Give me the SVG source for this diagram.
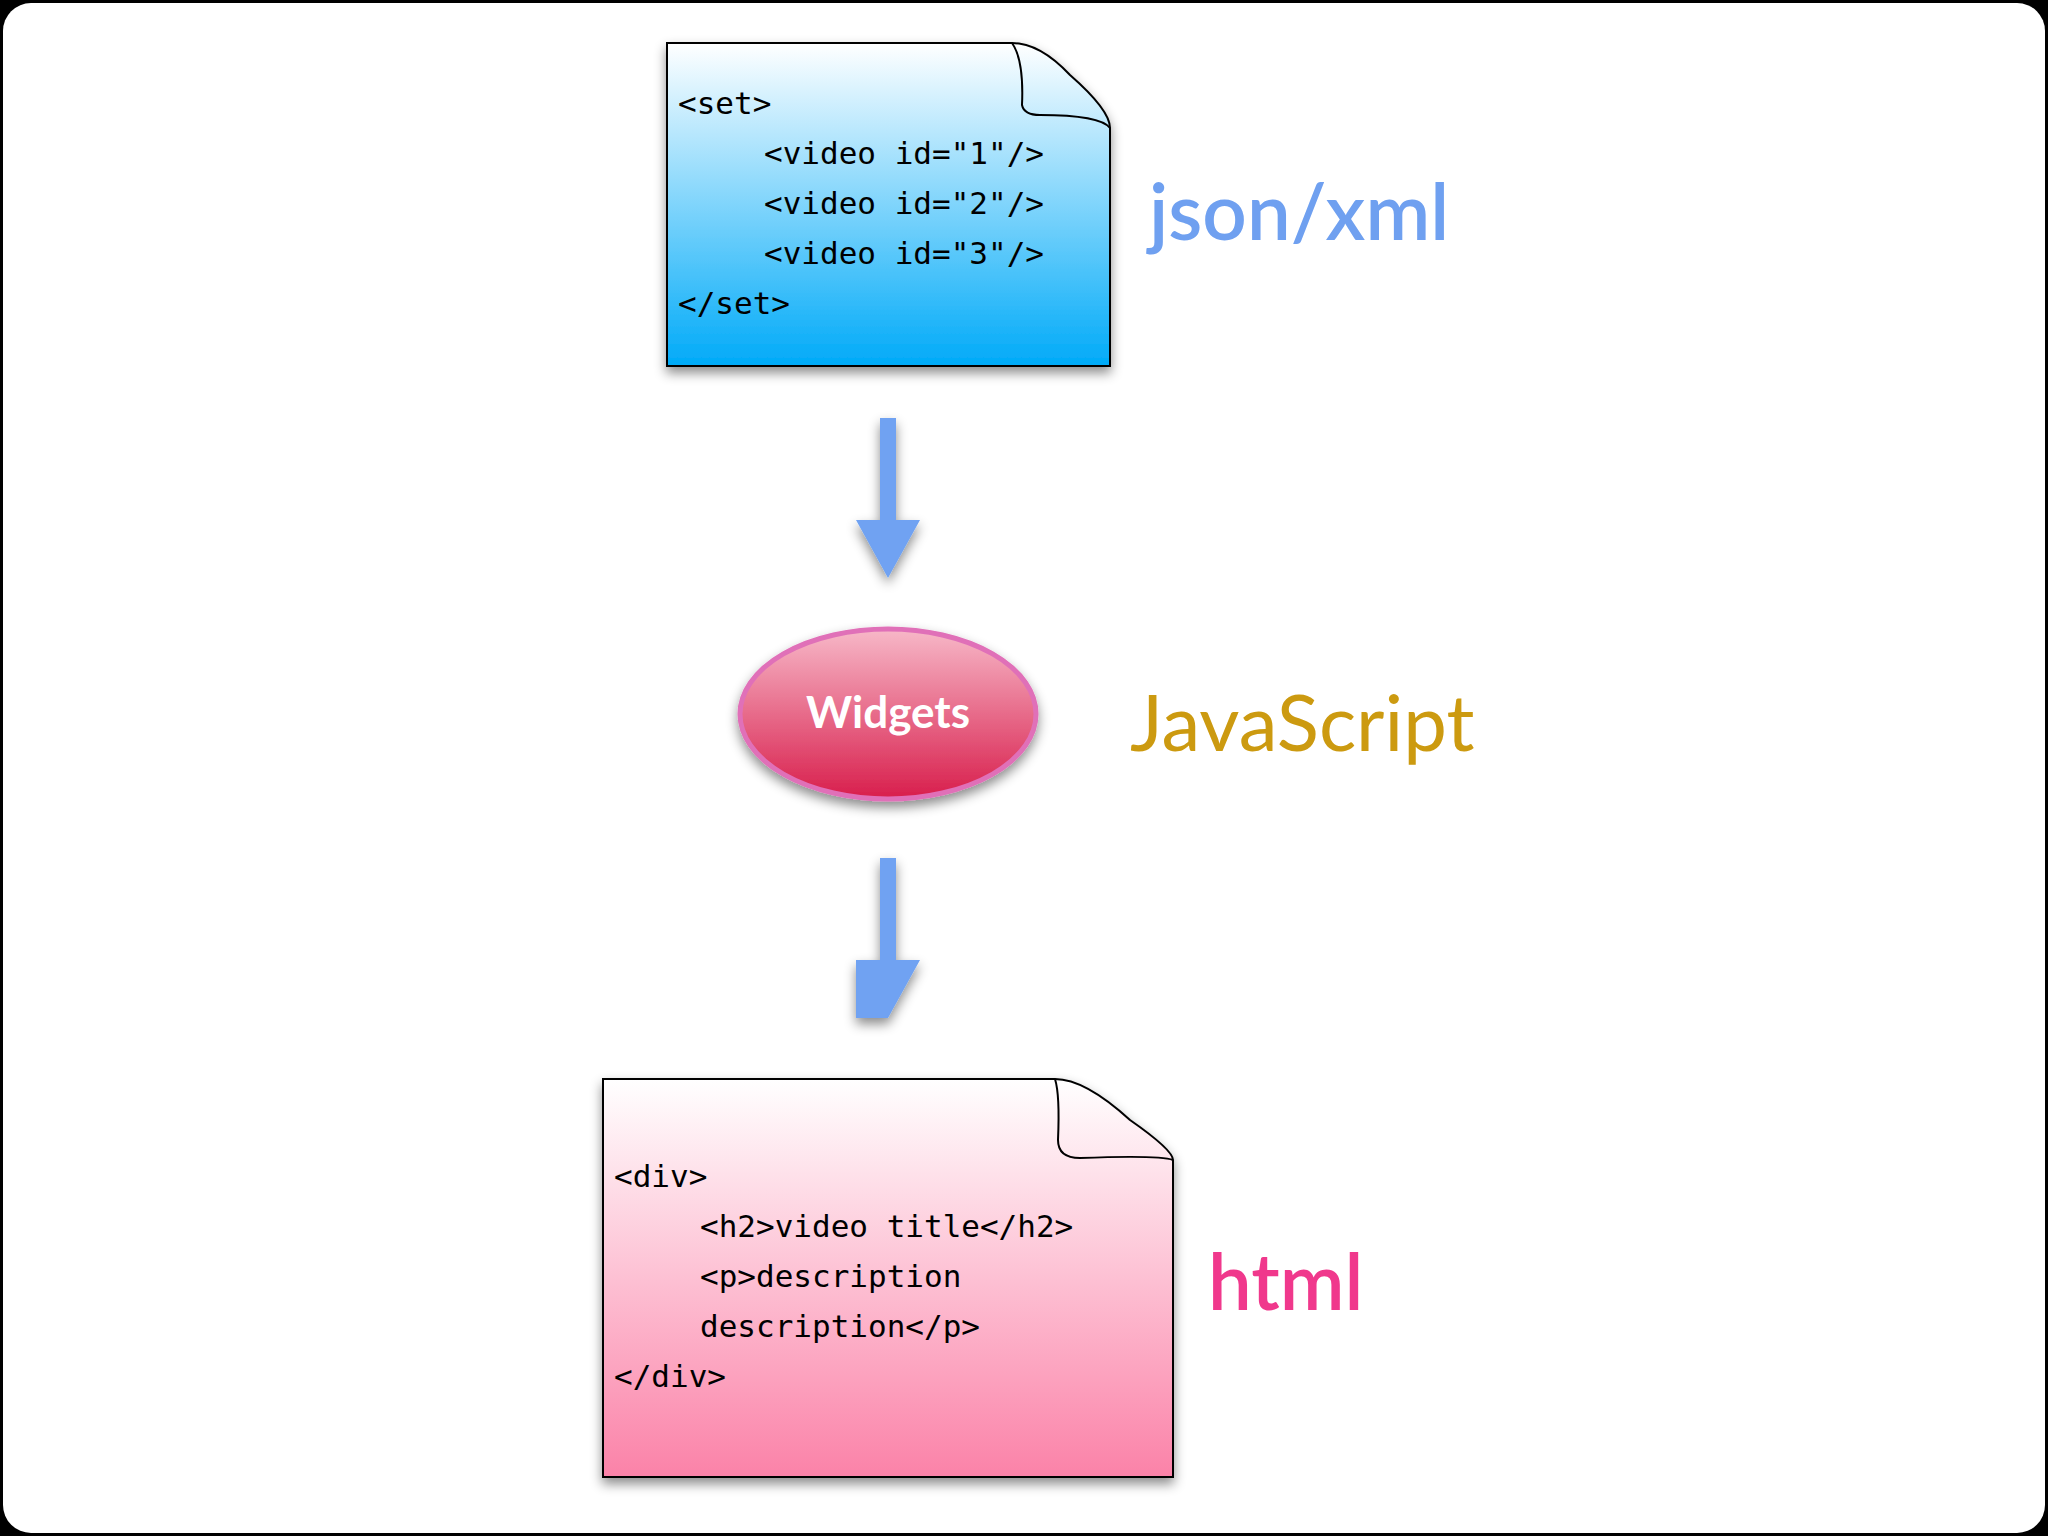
<svg xmlns="http://www.w3.org/2000/svg" width="2048" height="1536" viewBox="0 0 2048 1536">
<defs>
<linearGradient id="gBlue" x1="0" y1="0" x2="0" y2="1"><stop offset="0" stop-color="#ffffff"/><stop offset="1" stop-color="#00aaf8"/></linearGradient>
<linearGradient id="gPink" x1="0" y1="0" x2="0" y2="1"><stop offset="0" stop-color="#ffffff"/><stop offset="1" stop-color="#fb82a8"/></linearGradient>
<linearGradient id="gEll" x1="0" y1="0" x2="0" y2="1"><stop offset="0" stop-color="#f7b8c8"/><stop offset="1" stop-color="#d81e4c"/></linearGradient>
<filter id="sh" x="-20%" y="-20%" width="140%" height="150%"><feDropShadow dx="0" dy="6" stdDeviation="6" flood-color="#000" flood-opacity="0.45"/></filter>
<style>
.code{font-family:"DejaVu Sans Mono",monospace;font-size:31px;fill:#000}
.doc{stroke:#000;stroke-width:2}
.arr{fill:#6fa2f2;filter:url(#sh)}
.lbl{font-family:"Lato","Open Sans",sans-serif;font-size:78px}
</style>
</defs>
<rect width="2048" height="1536" fill="#000"/>
<rect x="3" y="3" width="2042" height="1530" rx="28" fill="#fff"/>
<g id="connectors">
<path class="arr" d="M880,418 H896 V520 L920,520 L888,578 L856,520 L880,520 Z"/>
<path class="arr" d="M880,858 H896 V960 L920,960 L888,1018 L856,1018 L856,960 L880,960 Z"/>
</g>
<g id="json">
<path class="doc" fill="url(#gBlue)" filter="url(#sh)" d="M667,43 H1012 Q1040,43 1070,75 Q1110,110 1110,128 V366 H667 Z"/>
<path fill="none" stroke="#000" stroke-width="2" d="M1012,43 Q1024,60 1022,105 Q1024,115 1040,115 Q1100,115 1110,128"/>
<text class="code" x="678" y="114">&lt;set&gt;</text>
<text class="code" x="764" y="164">&lt;video id="1"/&gt;</text>
<text class="code" x="764" y="214">&lt;video id="2"/&gt;</text>
<text class="code" x="764" y="264">&lt;video id="3"/&gt;</text>
<text class="code" x="678" y="314">&lt;/set&gt;</text>
<text class="lbl" x="1149" y="240" fill="#6fa0f0" font-weight="600">json/xml</text>
</g>
<g id="widgets">
<ellipse cx="888" cy="714" rx="148" ry="85" fill="url(#gEll)" stroke="#e070b8" stroke-width="5" filter="url(#sh)"/>
<text x="888" y="728" text-anchor="middle" font-family="Lato,sans-serif" font-weight="bold" font-size="44" fill="#fff">Widgets</text>
<text class="lbl" x="1130" y="751" fill="#cc9a10">JavaScript</text>
</g>
<g id="html">
<path class="doc" fill="url(#gPink)" filter="url(#sh)" d="M603,1079 H1055 Q1085,1079 1130,1120 Q1173,1150 1173,1160 V1477 H603 Z"/>
<path fill="none" stroke="#000" stroke-width="2" d="M1055,1079 Q1060,1095 1058,1140 Q1058,1158 1080,1158 Q1160,1155 1173,1160"/>
<text class="code" x="614" y="1187">&lt;div&gt;</text>
<text class="code" x="700" y="1237">&lt;h2&gt;video title&lt;/h2&gt;</text>
<text class="code" x="700" y="1287">&lt;p&gt;description</text>
<text class="code" x="700" y="1337">description&lt;/p&gt;</text>
<text class="code" x="614" y="1387">&lt;/div&gt;</text>
<text class="lbl" x="1208" y="1310" fill="#f0388c" font-weight="600" font-size="84">html</text>
</g>
</svg>
